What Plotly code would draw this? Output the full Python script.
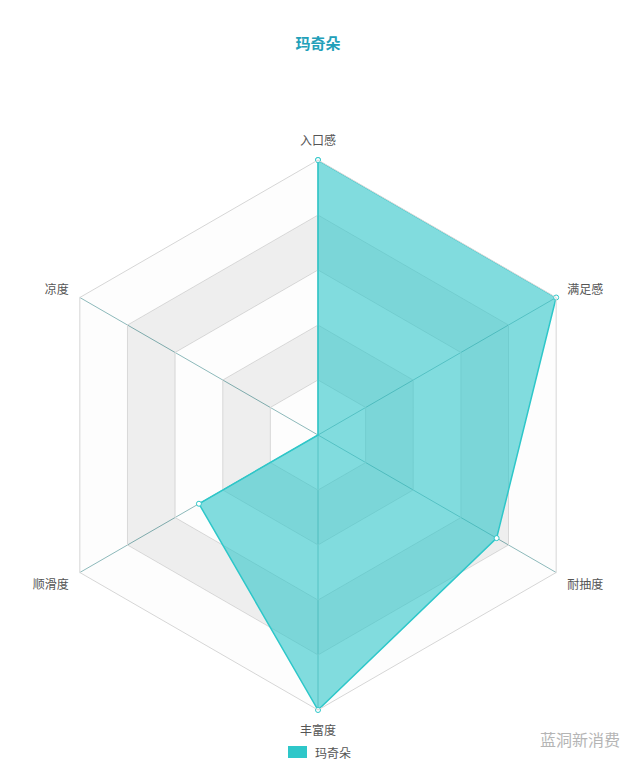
import plotly.graph_objects as go

categories = ["入口感", "满足感", "耐抽度", "丰富度", "顺滑度", "凉度"]
series_name = "玛奇朵"
values = [4, 4, 3, 4, 2, 0]
r_max = 4
split_levels = [0.8, 1.6, 2.4, 3.2, 4.0]

FONT = "Noto Sans CJK SC"
W, H = 640, 769
OFF = 8  # page body margin offset

def px(x):
    return (x - OFF) / W

def py(y):
    return 1 - (y - OFF) / H

fig = go.Figure()

# split-area bands (alternating light / gray), innermost first
band_colors = ["rgba(250,250,250,0.3)", "rgba(200,200,200,0.3)"]
closed = categories + [categories[0]]
prev = 0
for i, lvl in enumerate(split_levels):
    theta = closed + (closed[::-1] if prev > 0 else [])
    r = [lvl] * len(closed) + ([prev] * len(closed) if prev > 0 else [])
    fig.add_trace(go.Scatterpolar(
        r=r, theta=theta, mode="lines", fill="toself",
        fillcolor=band_colors[i % 2], line=dict(width=0),
        hoverinfo="skip", showlegend=False))
    prev = lvl

fig.add_trace(go.Scatterpolar(
    r=values + [values[0]], theta=closed,
    name=series_name, mode="lines+markers", fill="toself",
    fillcolor="rgba(46,199,201,0.6)",
    line=dict(color="#2ec7c9", width=1.5),
    marker=dict(size=5, color="white", line=dict(color="#2ec7c9", width=1)),
    showlegend=False,
))

# legend (swatch + label)
fig.add_shape(type="rect", xref="paper", yref="paper",
              x0=px(288), x1=px(307), y0=py(758), y1=py(746),
              fillcolor="#2ec7c9", line=dict(width=0), layer="above")

fig.update_layout(
    width=W, height=H,
    margin=dict(l=0, r=0, t=0, b=0),
    paper_bgcolor="white",
    font=dict(family=FONT, color="#555"),
    title=dict(text="<b>玛奇朵</b>", x=px(318), xanchor="center", y=py(44), yanchor="middle",
               font=dict(size=15, color="#22a0b9", family=FONT)),
    polar=dict(
        domain=dict(x=[35/640, 585/640], y=[67/769, 617/769]),
        bgcolor="white",
        gridshape="linear",
        radialaxis=dict(range=[0, r_max], tickvals=split_levels, showticklabels=False,
                        ticks="", showline=False, gridcolor="#d6d6d6", gridwidth=1),
        angularaxis=dict(type="category", categoryarray=categories, direction="clockwise",
                         rotation=90, ticks="outside", ticklen=10, tickcolor="rgba(0,0,0,0)",
                         showline=True, linecolor="#d6d6d6",
                         gridcolor="#5f9ea0", gridwidth=1,
                         tickfont=dict(size=12, color="#555", family=FONT)),
    ),
    showlegend=False,
    annotations=[
        dict(text=series_name, x=px(313), y=py(752), xref="paper", yref="paper",
             xanchor="left", yanchor="middle", showarrow=False,
             font=dict(size=12, color="#555", family=FONT)),
        dict(text="蓝洞新消费", x=px(580), y=py(739), xref="paper", yref="paper",
             xanchor="center", yanchor="middle",
             showarrow=False, font=dict(size=16, color="#b5b5b5", family=FONT)),
    ],
)

fig.write_html("out.html")
